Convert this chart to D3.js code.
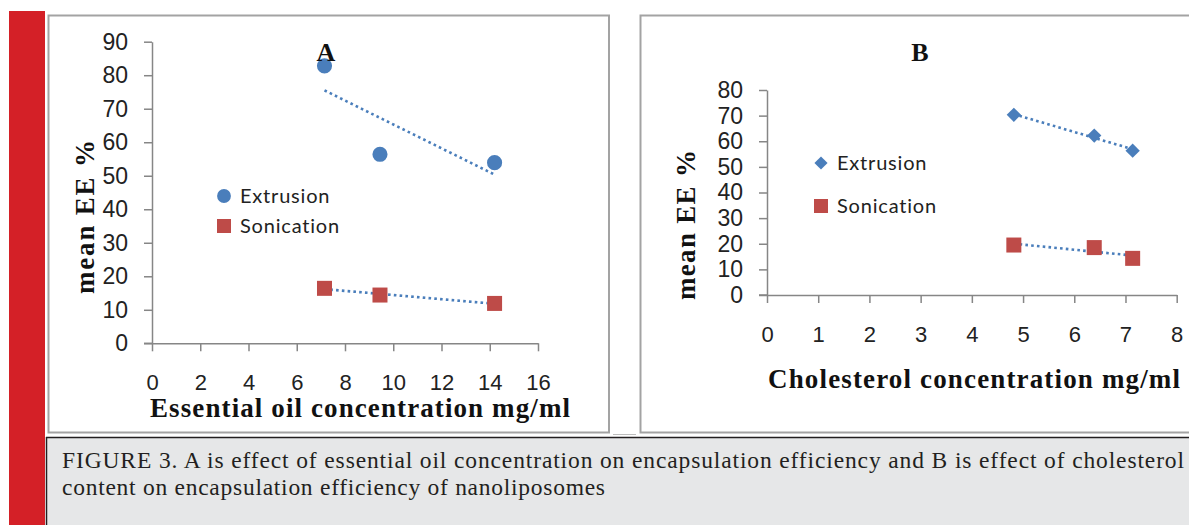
<!DOCTYPE html>
<html>
<head>
<meta charset="utf-8">
<script src="https://cdn.jsdelivr.net/npm/d3@7"></script>
<style>
  body { margin: 0; background: #ffffff; }
  svg { display: block; }
  .tick text { font-family: "Liberation Sans", Arial, sans-serif; fill: #222; }
  .axis path, .axis line { stroke: #868686; stroke-width: 1.5px; }
</style>
</head>
<body>
<svg id="chart" width="1189" height="525"></svg>
<script>

// chart A - essential oil
var oilConc = [7.15, 9.45, 14.2];
var oilExtrusion = [82.8, 56.4, 53.9];
var oilSonication = [16.4, 14.4, 11.9];
var oilXTicks = [0, 2, 4, 6, 8, 10, 12, 14, 16];
var oilYTicks = [0, 10, 20, 30, 40, 50, 60, 70, 80, 90];

// chart B - cholesterol
var cholConc = [4.82, 6.39, 7.14];
var cholExtrusion = [70.3, 62.2, 56.3];
var cholSonication = [19.5, 18.5, 14.3];
var cholXTicks = [0, 1, 2, 3, 4, 5, 6, 7, 8];
var cholYTicks = [0, 10, 20, 30, 40, 50, 60, 70, 80];

var seriesNames = ["Extrusion", "Sonication"];
var captionLines = [
  "FIGURE 3. A is effect of essential oil concentration on encapsulation efficiency and B is effect of cholesterol",
  "content on encapsulation efficiency of nanoliposomes"
];

var blue = "#4a7ebb";
var red = "#be4b48";

var svg = d3.select("#chart");

// red strip on the left
svg.append("rect")
  .attr("x", 9).attr("y", 11)
  .attr("width", 36).attr("height", 514)
  .attr("fill", "#d42027");

// panel frames
svg.append("rect")
  .attr("x", 48.5).attr("y", 15.5)
  .attr("width", 560.5).attr("height", 417)
  .attr("fill", "#fff")
  .attr("stroke", "#a3a3a3").attr("stroke-width", 2);

svg.append("rect")
  .attr("x", 640.5).attr("y", 15.5)
  .attr("width", 600).attr("height", 417)
  .attr("fill", "#fff")
  .attr("stroke", "#a3a3a3").attr("stroke-width", 2);

svg.append("line")
  .attr("x1", 613).attr("x2", 636)
  .attr("y1", 434.5).attr("y2", 434.5)
  .attr("stroke", "#bdbdbd").attr("stroke-width", 1);

// caption box
svg.append("rect")
  .attr("x", 46).attr("y", 437)
  .attr("width", 1150).attr("height", 95)
  .attr("fill", "#e6e7e8");

svg.append("line")
  .attr("x1", 46).attr("x2", 1189)
  .attr("y1", 437.5).attr("y2", 437.5)
  .attr("stroke", "#231f20").attr("stroke-width", 1.5);

svg.append("line")
  .attr("x1", 46.5).attr("x2", 46.5)
  .attr("y1", 437).attr("y2", 525)
  .attr("stroke", "#231f20").attr("stroke-width", 1.5);

// caption, both lines stretched to the widths in the print
var capWidths = [1122, 543];
var capY = [467.5, 495];
svg.selectAll(".cap")
  .data(captionLines)
  .enter().append("text")
  .attr("class", "cap")
  .attr("x", 62)
  .attr("y", function(d, i) { return capY[i]; })
  .attr("textLength", function(d, i) { return capWidths[i]; })
  .attr("lengthAdjust", "spacing")
  .style("font-family", "'Liberation Serif', 'Times New Roman', serif")
  .style("font-size", "23.5px")
  .attr("fill", "#231f20")
  .text(function(d) { return d; });

// least squares line, same as the excel linear trendline
function trend(xs, ys) {
  var mx = d3.mean(xs), my = d3.mean(ys);
  var sxy = d3.sum(xs, function(d, i) { return (d - mx) * (ys[i] - my); });
  var sxx = d3.sum(xs, function(d) { return (d - mx) * (d - mx); });
  var slope = sxy / sxx;
  var x0 = d3.min(xs), x1 = d3.max(xs);
  return [[x0, my + slope * (x0 - mx)], [x1, my + slope * (x1 - mx)]];
}

function drawPanel(opt) {
  var g = svg.append("g");
  var x = d3.scaleLinear().domain(opt.xDomain).range(opt.xRange);
  var y = d3.scaleLinear().domain(opt.yDomain).range(opt.yRange);

  var yAxis = d3.axisLeft(y).tickValues(opt.yTicks).tickSize(8).tickPadding(16).tickSizeOuter(0);
  g.append("g").attr("class", "axis")
    .attr("transform", "translate(" + opt.xRange[0] + ",0)")
    .call(yAxis)
    .selectAll("text").style("font-size", "23px");

  var xAxis = d3.axisBottom(x).tickValues(opt.xTicks).tickSize(8).tickPadding(opt.xPad).tickSizeOuter(0);
  g.append("g").attr("class", "axis")
    .attr("transform", "translate(0," + opt.yRange[0] + ")")
    .call(xAxis)
    .selectAll("text").style("font-size", "22px");

  // little tick to the left of the origin
  g.append("line")
    .attr("x1", opt.xRange[0] - 8).attr("x2", opt.xRange[0])
    .attr("y1", opt.yRange[0]).attr("y2", opt.yRange[0])
    .attr("stroke", "#868686").attr("stroke-width", 1.5);

  // trend lines
  var line = d3.line()
    .x(function(d) { return x(d[0]); })
    .y(function(d) { return y(d[1]); });

  [opt.ext, opt.son].forEach(function(vals) {
    g.append("path")
      .attr("d", line(trend(opt.xs, vals)))
      .attr("fill", "none")
      .attr("stroke", blue)
      .attr("stroke-width", 2.6)
      .attr("stroke-dasharray", "2.6,3.2");
  });

  // extrusion markers
  var extSym = d3.symbol().type(opt.extShape).size(opt.extSize);
  g.selectAll(".ext")
    .data(opt.xs)
    .enter().append("path")
    .attr("class", "ext")
    .attr("d", extSym)
    .attr("transform", function(d, i) {
      return "translate(" + x(d) + "," + y(opt.ext[i]) + ")";
    })
    .attr("fill", blue);

  // sonication markers
  g.selectAll(".son")
    .data(opt.xs)
    .enter().append("rect")
    .attr("class", "son")
    .attr("x", function(d) { return x(d) - 7.5; })
    .attr("y", function(d, i) { return y(opt.son[i]) - 7.5; })
    .attr("width", 15).attr("height", 15)
    .attr("fill", red);

  // legend
  g.append("path")
    .attr("d", d3.symbol().type(opt.extShape).size(opt.legSize)())
    .attr("transform", "translate(" + opt.legX + "," + opt.legY[0] + ")")
    .attr("fill", blue);
  g.append("rect")
    .attr("x", opt.legX - 7).attr("y", opt.legY[1] - 7)
    .attr("width", 14).attr("height", 14)
    .attr("fill", red);
  g.selectAll(".leg")
    .data(seriesNames)
    .enter().append("text")
    .attr("x", opt.legX + 16)
    .attr("y", function(d, i) { return opt.legY[i]; })
    .attr("dy", "0.35em")
    .style("font-family", "Lato, 'Open Sans', sans-serif")
    .style("font-size", "20px")
    .style("letter-spacing", "0.8px")
    .attr("fill", "#222")
    .text(function(d) { return d; });

  // panel letter
  g.append("text")
    .attr("x", opt.title[1]).attr("y", opt.title[2])
    .attr("text-anchor", "middle")
    .attr("dy", "0.35em")
    .style("font-family", "'Liberation Serif', 'Times New Roman', serif")
    .style("font-size", "26px")
    .style("font-weight", "bold")
    .attr("fill", "#111")
    .text(opt.title[0]);

  // axis titles
  g.append("text")
    .attr("x", opt.xLabel[1]).attr("y", opt.xLabel[2])
    .attr("textLength", opt.xLabel[3])
    .attr("lengthAdjust", "spacing")
    .style("font-family", "'Liberation Serif', 'Times New Roman', serif")
    .style("font-size", "27px")
    .style("font-weight", "bold")
    .attr("fill", "#111")
    .text(opt.xLabel[0]);

  g.append("text")
    .attr("transform", "translate(" + opt.yLabel[0] + "," + opt.yLabel[1] + ") rotate(-90)")
    .attr("textLength", opt.yLabel[2])
    .attr("lengthAdjust", "spacing")
    .style("font-family", "'Liberation Serif', 'Times New Roman', serif")
    .style("font-size", "27px")
    .style("font-weight", "bold")
    .attr("fill", "#111")
    .text("mean EE %");
}

drawPanel({
  xs: oilConc, ext: oilExtrusion, son: oilSonication,
  xDomain: [0, 16], xRange: [152, 538],
  yDomain: [0, 90], yRange: [343.3, 41.7],
  xTicks: oilXTicks, yTicks: oilYTicks, xPad: 23,
  extShape: d3.symbolCircle, extSize: 180, legSize: 150,
  legX: 224, legY: [196, 226],
  title: ["A", 326, 52],
  xLabel: ["Essential oil concentration mg/ml", 150, 417, 420],
  yLabel: [94, 294, 154]
});

drawPanel({
  xs: cholConc, ext: cholExtrusion, son: cholSonication,
  xDomain: [0, 8], xRange: [767, 1176.7],
  yDomain: [0, 80], yRange: [295, 90],
  xTicks: cholXTicks, yTicks: cholYTicks, xPad: 23,
  extShape: d3.symbolDiamond2, extSize: 130, legSize: 110,
  legX: 821, legY: [163, 206],
  title: ["B", 920, 52],
  xLabel: ["Cholesterol concentration mg/ml", 768, 388, 412],
  yLabel: [695, 300, 150]
});

</script>
</body>
</html>
